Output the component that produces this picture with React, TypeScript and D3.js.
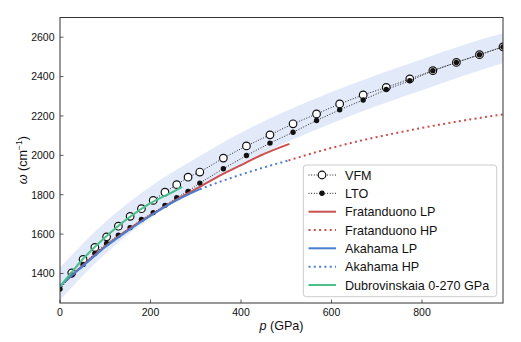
import React from "react";
import * as d3 from "d3";

// ---- data ----
const pGrid = [0, 26, 51, 77, 103, 129, 155, 180, 206, 232, 258, 283, 309, 361, 412, 464, 515, 567, 618, 670, 721, 773, 824, 876, 927, 979];
const vfmP = pGrid.slice(1);
const vfmW = [1403, 1471, 1532, 1586, 1640, 1690, 1729, 1771, 1813, 1851, 1889, 1915, 1986, 2048, 2104, 2160, 2210, 2261, 2307, 2345, 2388, 2430, 2472, 2511, 2551];
const ltoP = pGrid;
const ltoW = [1321, 1392, 1446, 1502, 1552, 1594, 1633, 1674, 1709, 1746, 1785, 1817, 1859, 1932, 1999, 2062, 2117, 2177, 2231, 2281, 2334, 2379, 2430, 2472, 2511, 2551];

const bandP = [0, 100, 200, 300, 400, 500, 600, 700, 800, 900, 979];
const bandHigh = [1430, 1662, 1842, 1985, 2115, 2225, 2322, 2408, 2488, 2567, 2620];
const bandLow = [1265, 1500, 1680, 1825, 1955, 2065, 2162, 2250, 2330, 2410, 2468];

const fratLPp = [10, 50, 100, 150, 200, 250, 309, 350, 400, 442, 507];
const fratLPw = [1355, 1440, 1538, 1622, 1695, 1765, 1840, 1893, 1950, 1998, 2058];
const fratHPp = [505, 580, 660, 740, 820, 900, 979];
const fratHPw = [1974, 2025, 2072, 2112, 2148, 2180, 2208];

const akaLPp = [0, 25, 50, 100, 150, 200, 250, 309];
const akaLPw = [1334, 1388, 1436, 1534, 1617, 1693, 1762, 1828];
const akaHPp = [309, 350, 400, 450, 505];
const akaHPw = [1828, 1863, 1902, 1938, 1974];

const dubP = [0, 25, 50, 100, 150, 200, 250, 270];
const dubW = [1335, 1404, 1472, 1584, 1680, 1757, 1815, 1840];

const xTicks = [0, 200, 400, 600, 800];
const yTicks = [1400, 1600, 1800, 2000, 2200, 2400, 2600];

const legendItems = ["VFM", "LTO", "Fratanduono LP", "Fratanduono HP", "Akahama LP", "Akahama HP", "Dubrovinskaia 0-270 GPa"];

const RED = "#C9504E";
const BLUE = "#4A7ECF";
const GREEN = "#4CC08A";

export default function App() {
  const W = 521, H = 342;
  const L = 60, R = 503, T = 17.5, B = 303;
  const x = d3.scaleLinear().domain([0, 979]).range([L, R]);
  const y = d3.scaleLinear().domain([1250, 2700]).range([B, T]);

  const zip = (ps: number[], ws: number[]) => ps.map((p, i) => [p, ws[i]] as [number, number]);
  const lineLin = d3.line<[number, number]>().x(d => x(d[0])).y(d => y(d[1]));
  const lineSmooth = d3.line<[number, number]>().x(d => x(d[0])).y(d => y(d[1])).curve(d3.curveMonotoneX);
  const area = d3.area<number>()
    .x((_, i) => x(bandP[i]))
    .y0((_, i) => y(bandLow[i]))
    .y1((_, i) => y(bandHigh[i]))
    .curve(d3.curveMonotoneX);

  const font = "'Liberation Sans', Arial, Helvetica, sans-serif";
  const legY = [175, 193.3, 211.7, 230, 248.3, 266.7, 285];

  const legendHandle = (i: number, cy: number) => {
    const x1 = 308.5, x2 = 336, cx = 322;
    switch (i) {
      case 0:
        return (<g>
          <line x1={x1} x2={x2} y1={cy} y2={cy} stroke="#222" strokeWidth={1} strokeDasharray="1,1.65" />
          <circle cx={cx} cy={cy} r={3.8} fill="white" stroke="#111" strokeWidth={1.2} />
        </g>);
      case 1:
        return (<g>
          <line x1={x1} x2={x2} y1={cy} y2={cy} stroke="#222" strokeWidth={1} strokeDasharray="1,1.65" />
          <circle cx={cx} cy={cy} r={2.7} fill="#111" />
        </g>);
      case 2: return <line x1={x1} x2={x2} y1={cy} y2={cy} stroke={RED} strokeWidth={2} />;
      case 3: return <line x1={x1} x2={x2} y1={cy} y2={cy} stroke={RED} strokeWidth={2} strokeDasharray="2,3.3" />;
      case 4: return <line x1={x1} x2={x2} y1={cy} y2={cy} stroke={BLUE} strokeWidth={2} />;
      case 5: return <line x1={x1} x2={x2} y1={cy} y2={cy} stroke={BLUE} strokeWidth={2} strokeDasharray="2,3.3" />;
      default: return <line x1={x1} x2={x2} y1={cy} y2={cy} stroke={GREEN} strokeWidth={2} />;
    }
  };

  return (
    <svg width={W} height={H} style={{ position: "absolute", left: 0, top: 0, background: "white" }} fontFamily={font}>
      <defs>
        <clipPath id="plotclip">
          <rect x={L} y={T} width={R - L} height={B - T} />
        </clipPath>
      </defs>
      <rect x={0} y={0} width={W} height={H} fill="white" />
      <g clipPath="url(#plotclip)">
        <path d={area(bandP) || ""} fill="#e2eafa" />
        <path d={lineLin(zip(vfmP, vfmW)) || ""} fill="none" stroke="#222" strokeWidth={1} strokeDasharray="1,1.65" />
        {vfmP.map((p, i) => (
          <circle key={"v" + i} cx={x(p)} cy={y(vfmW[i])} r={3.8} fill="white" stroke="#111" strokeWidth={1.2} />
        ))}
        <path d={lineLin(zip(ltoP, ltoW)) || ""} fill="none" stroke="#222" strokeWidth={1} strokeDasharray="1,1.65" />
        {ltoP.map((p, i) => (
          <circle key={"l" + i} cx={x(p)} cy={y(ltoW[i])} r={2.7} fill="#111" />
        ))}
        <path d={lineSmooth(zip(fratLPp, fratLPw)) || ""} fill="none" stroke={RED} strokeWidth={2} />
        <path d={lineSmooth(zip(fratHPp, fratHPw)) || ""} fill="none" stroke={RED} strokeWidth={2} strokeDasharray="2,3.3" />
        <path d={lineSmooth(zip(akaLPp, akaLPw)) || ""} fill="none" stroke={BLUE} strokeWidth={2} />
        <path d={lineSmooth(zip(akaHPp, akaHPw)) || ""} fill="none" stroke={BLUE} strokeWidth={2} strokeDasharray="2,3.3" />
        <path d={lineSmooth(zip(dubP, dubW)) || ""} fill="none" stroke={GREEN} strokeWidth={2} />
      </g>

      {/* axes frame */}
      <rect x={L} y={T} width={R - L} height={B - T} fill="none" stroke="#333" strokeWidth={1} />

      {xTicks.map(t => (
        <g key={"xt" + t}>
          <line x1={x(t)} x2={x(t)} y1={B} y2={B - 3.5} stroke="#333" strokeWidth={0.8} />
          <text x={x(t)} y={315.7} fontSize={10.5} textAnchor="middle" fill="#111">{t}</text>
        </g>
      ))}
      {yTicks.map(t => (
        <g key={"yt" + t}>
          <line x1={L} x2={L + 3.5} y1={y(t)} y2={y(t)} stroke="#333" strokeWidth={0.8} />
          <text x={54.5} y={y(t) + 3.8} fontSize={10.5} textAnchor="end" fill="#111">{t}</text>
        </g>
      ))}

      <text x={(L + R) / 2} y={330} fontSize={12.6} textAnchor="middle" fill="#111">
        <tspan fontStyle="italic">p</tspan> (GPa)
      </text>
      <text transform={`translate(27,${(T + B) / 2}) rotate(-90)`} fontSize={12.6} textAnchor="middle" fill="#111">
        <tspan fontStyle="italic">ω</tspan> (cm<tspan fontSize={8.5} dy={-5}>−1</tspan><tspan dy={5}>)</tspan>
      </text>

      {/* legend */}
      <rect x={303.3} y={165} width={193.4} height={131.7} rx={3} fill="white" fillOpacity={0.85} stroke="#cccccc" strokeWidth={1} />
      {legendItems.map((name, i) => (
        <g key={"lg" + i}>
          {legendHandle(i, legY[i])}
          <text x={345} y={legY[i] + 4.5} fontSize={12.6} fill="#111">{name}</text>
        </g>
      ))}
    </svg>
  );
}
